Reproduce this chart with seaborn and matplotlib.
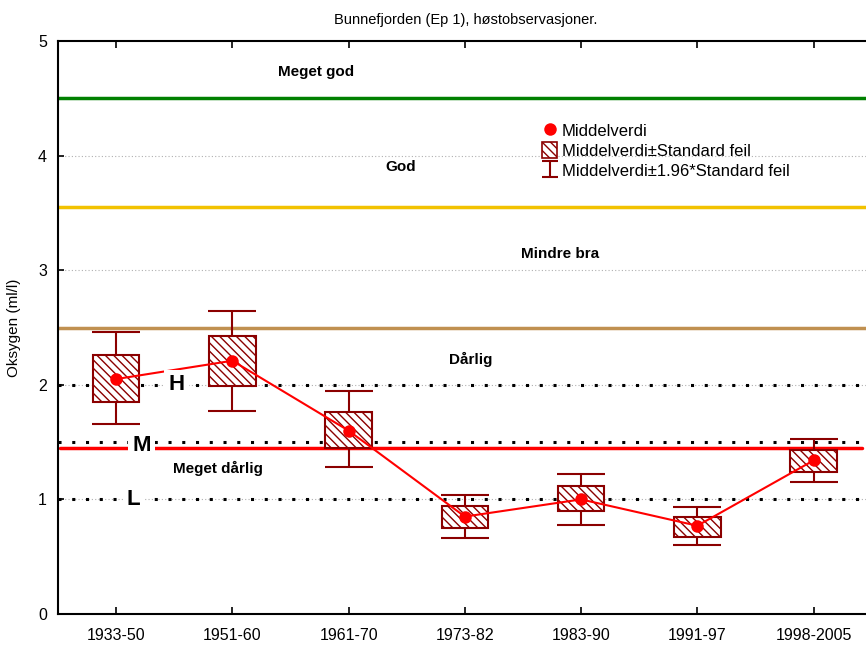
import numpy as np
import matplotlib
matplotlib.use("Agg")
import matplotlib.pyplot as plt
import seaborn as sns
from matplotlib.lines import Line2D
from matplotlib.patches import Patch

periods = ["1933-50", "1951-60", "1961-70", "1973-82", "1983-90", "1991-97", "1998-2005"]
means = [2.05, 2.21, 1.60, 0.85, 1.00, 0.77, 1.34]
se_low = [1.85, 1.99, 1.45, 0.75, 0.90, 0.67, 1.24]
se_high = [2.26, 2.43, 1.76, 0.94, 1.12, 0.85, 1.43]
ci_low = [1.66, 1.77, 1.28, 0.66, 0.78, 0.60, 1.15]
ci_high = [2.46, 2.64, 1.95, 1.04, 1.22, 0.93, 1.53]

class_limits = [4.5, 3.55, 2.5]
class_colors = ["#008000", "#f2c200", "#c09050"]
class_names = ["Meget god", "God", "Mindre bra", "Dårlig", "Meget dårlig"]
class_text_pos = [(1.72, 4.73), (2.45, 3.90), (3.82, 3.14), (3.05, 2.22), (0.88, 1.27)]

ref_levels = [2.0, 1.5, 1.0]
ref_names = ["H", "M", "L"]
ref_text_x = [0.52, 0.22, 0.15]
red_level = 1.45

sns.set_style("white")
plt.rcParams["font.family"] = ["Liberation Sans", "DejaVu Sans"]
plt.rcParams["hatch.linewidth"] = 1.0
plt.rcParams["text.color"] = "black"
plt.rcParams["axes.labelcolor"] = "black"
plt.rcParams["xtick.color"] = "black"
plt.rcParams["ytick.color"] = "black"

fig = plt.figure(figsize=(8.66, 6.46), dpi=100)
ax = fig.add_axes([58 / 866, 1 - 614 / 646, 816 / 866, 573 / 646])

x = np.arange(len(periods))
box_col = "#8b0000"

# grid lines
for g in [1, 2, 3, 4]:
    ax.axhline(g, color="#b0b0b0", lw=0.8, ls=(0, (1, 2)), zorder=0)

# quality class borders
for lvl, c in zip(class_limits, class_colors):
    ax.axhline(lvl, color=c, lw=2.5, zorder=1)

# reference lines H/M/L
for lvl in ref_levels:
    ax.axhline(lvl, color="black", lw=2.2, ls=(0, (1, 3.5)), zorder=1)
ax.plot([-0.48, 6.42], [red_level, red_level], color="red", lw=2.5, zorder=1)

for name, (tx, ty) in zip(class_names, class_text_pos):
    ax.text(tx, ty, name, ha="center", va="center", fontsize=11, fontweight="bold", zorder=6)

for name, lvl, tx in zip(ref_names, [2.0, 1.47, 1.0], ref_text_x):
    ax.text(tx, lvl, name, ha="center", va="center", fontsize=16, fontweight="bold",
            zorder=8, bbox=dict(facecolor="white", edgecolor="none", pad=3))

# whiskers (mean +- 1.96 SE)
ci_low_a = np.array(ci_low)
ci_high_a = np.array(ci_high)
mid = (ci_low_a + ci_high_a) / 2
ax.errorbar(x, mid, yerr=(ci_high_a - ci_low_a) / 2, fmt="none", ecolor=box_col,
            elinewidth=1.5, capsize=17, capthick=1.5, zorder=2)

# boxes (mean +- SE)
se_low_a = np.array(se_low)
se_high_a = np.array(se_high)
ax.bar(x, se_high_a - se_low_a, bottom=se_low_a, width=0.4, facecolor="white",
       edgecolor=box_col, hatch="\\\\\\\\", linewidth=1.5, zorder=3)

# mean line
sns.lineplot(x=x, y=means, ax=ax, color="red", lw=1.5, marker="o", markersize=9,
             markeredgewidth=0, zorder=5, legend=False)

ax.set_xlim(-0.5, 6.52)
ax.set_ylim(0, 5)
ax.set_xticks(x)
ax.set_xticklabels(periods)
ax.set_yticks([0, 1, 2, 3, 4, 5])
ax.tick_params(axis="x", direction="in", top=True, bottom=True, length=5, width=1.2,
               labelsize=11.5, pad=10)
ax.tick_params(axis="y", direction="in", left=True, length=4, width=1.2, labelsize=11.5, pad=8)
for s in ["left", "bottom", "top"]:
    ax.spines[s].set_color("black")
    ax.spines[s].set_linewidth(1.5)
ax.spines["right"].set_visible(False)

ax.set_ylabel("Oksygen (ml/l)", fontsize=11, labelpad=12)
ax.set_title("Bunnefjorden (Ep 1), høstobservasjoner.", fontsize=10.5, pad=12)

# legend handle for the whiskers, drawn with small caps
eb_handle = ax.errorbar([np.nan], [np.nan], yerr=[0.1], fmt="none", ecolor=box_col,
                        elinewidth=1.5, capsize=6, capthick=1.5)
handles = [
    Line2D([], [], color="red", marker="o", ls="none", markersize=9, markeredgewidth=0),
    Patch(facecolor="white", edgecolor=box_col, hatch="\\\\\\\\", lw=1.2),
    eb_handle,
]
labels = ["Middelverdi", "Middelverdi\u00b1Standard feil", "Middelverdi\u00b11.96*Standard feil"]
ax.legend(handles, labels, loc="upper left", bbox_to_anchor=(0.585, 0.87), frameon=False,
          fontsize=12, handlelength=0.9, handleheight=1.1, handletextpad=0.3,
          labelspacing=0.2, borderaxespad=0)

fig.savefig("out.png", dpi=100)
